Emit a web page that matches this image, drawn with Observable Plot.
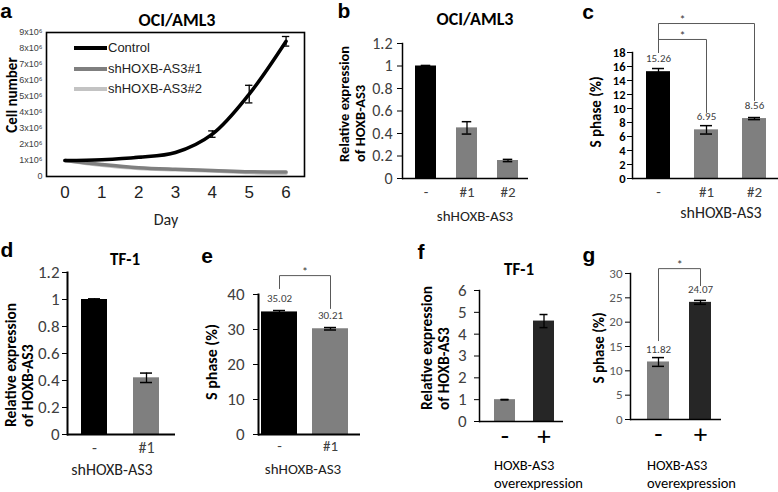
<!DOCTYPE html>
<html><head><meta charset="utf-8">
<script src="https://cdn.jsdelivr.net/npm/d3@7"></script>
<script src="https://cdn.jsdelivr.net/npm/@observablehq/plot@0.6"></script>
<style>
body{margin:0;background:#fff;}
#fig{position:relative;width:778px;height:492px;overflow:hidden;font-family:Carlito,Lato,"Liberation Sans",sans-serif;color:#000;}
#fig svg{position:absolute;}
.t{position:absolute;white-space:nowrap;line-height:1;transform:translate(-50%,-50%);}
.r2{position:absolute;white-space:nowrap;transform-origin:0 0;transform:rotate(-90deg);font-weight:bold;text-align:left;}
.b2{position:absolute;white-space:nowrap;text-align:left;}
</style></head><body><div id="fig"></div><script>
// ---------- data ----------
const days = [0, 1, 2, 3, 4, 5, 6];
const controlCells = [1.0e6, 1.05e6, 1.2e6, 1.5e6, 2.65e6, 5.15e6, 8.45e6];
const controlErr   = [0, 0, 0.05e6, 0, 0.2e6, 0.55e6, 0.3e6];
const sh1Cells = [1.0e6, 0.75e6, 0.55e6, 0.45e6, 0.38e6, 0.3e6, 0.28e6];
const sh2Cells = [1.0e6, 0.7e6, 0.5e6, 0.42e6, 0.35e6, 0.25e6, 0.2e6];
const seriesNames = ["Control", "shHOXB-AS3#1", "shHOXB-AS3#2"];
const cellTicks = [0, 1e6, 2e6, 3e6, 4e6, 5e6, 6e6, 7e6, 8e6, 9e6];
const cellTickLabels = ["0", "1x10⁶", "2x10⁶", "3x10⁶", "4x10⁶", "5x10⁶", "6x10⁶", "7x10⁶", "8x10⁶", "9x10⁶"];

const bCats = ["-", "#1", "#2"]; const bVals = [1.0, 0.45, 0.16]; const bErr = [0.005, 0.055, 0.01];
const cCats = ["-", "#1", "#2"]; const cVals = [15.26, 6.95, 8.56]; const cErr = [0.45, 0.6, 0.15];
const dCats = ["-", "#1"]; const dVals = [1.0, 0.42]; const dErr = [0.005, 0.035];
const eCats = ["-", "#1"]; const eVals = [35.02, 30.21]; const eErr = [0.4, 0.35];
const fCats = ["-", "+"]; const fVals = [1.0, 4.6]; const fErr = [0.01, 0.3];
const gCats = ["-", "+"]; const gVals = [11.82, 24.07]; const gErr = [0.9, 0.4];

const relTicks = [0, 0.2, 0.4, 0.6, 0.8, 1, 1.2];
const cTicks = [0, 2, 4, 6, 8, 10, 12, 14, 16, 18];
const eTicks = [0, 10, 20, 30, 40];
const fTicks = [0, 1, 2, 3, 4, 5, 6];
const gTicks = [0, 5, 10, 15, 20, 25, 30];

// significance brackets: from / to category, bracket height, foot heights
const cSig = [{from: "-", to: "#1", top: 19.86, footFrom: 18.0, footTo: 9.43},
              {from: "-", to: "#2", top: 22.14, footFrom: 18.0, footTo: 11.14}];
const eSig = [{from: "-", to: "#1", top: 45.4, footFrom: 41.7, footTo: 36.0}];
const gSig = [{from: "-", to: "+", top: 31.0, footFrom: 16.2, footTo: 27.5}];

// ---------- helpers ----------
const fig = document.getElementById("fig");
function place(svg, left, top) { svg.style.left = left + "px"; svg.style.top = top + "px"; fig.appendChild(svg); }
function txt(s, x, y, o = {}) {
  const d = document.createElement("div"); d.className = "t"; d.textContent = s;
  d.style.left = x + "px"; d.style.top = y + "px"; d.style.fontSize = (o.size || 15) + "px";
  if (o.bold) d.style.fontWeight = "bold";
  if (o.font) d.style.fontFamily = o.font;
  if (o.color) d.style.color = o.color;
  if (o.rot) d.style.transform = "translate(-50%,-50%) rotate(-90deg)";
  fig.appendChild(d);
}
function rot2(lines, xFirst, yBottom, size, lh) {
  const d = document.createElement("div"); d.className = "r2";
  d.style.left = (xFirst - lh / 2) + "px"; d.style.top = yBottom + "px";
  d.style.fontSize = size + "px"; d.style.lineHeight = lh + "px";
  lines.forEach(l => { const s = document.createElement("div"); s.textContent = l; d.appendChild(s); });
  fig.appendChild(d);
}
function two(lines, x, yTop, size, lh) {
  const d = document.createElement("div"); d.className = "b2";
  d.style.left = x + "px"; d.style.top = yTop + "px"; d.style.fontSize = size + "px"; d.style.lineHeight = lh + "px";
  lines.forEach(l => { const s = document.createElement("div"); s.textContent = l; d.appendChild(s); });
  fig.appendChild(d);
}
const plain = d => String(d);

// ---------- panel a ----------
{
  const rows = [];
  [controlCells, sh1Cells, sh2Cells].forEach((arr, k) => days.forEach((d, i) => rows.push({day: d, v: arr[i], s: seriesNames[k]})));
  const errRows = days.map((d, i) => ({day: d, v: controlCells[i], e: controlErr[i]})).filter(r => r.e > 0);
  const colors = {"Control": "#000", "shHOXB-AS3#1": "#7f7f7f", "shHOXB-AS3#2": "#c3c3c3"};
  const W = 310, H = 210, top = 0, left = 0;
  const svg = Plot.plot({
    width: W, height: H, marginLeft: 46, marginRight: 6, marginTop: 32, marginBottom: 34,
    x: {domain: [-0.5, 6.5]}, y: {domain: [0, 9e6]},
    style: {background: "transparent", fontFamily: "'Liberation Sans', Arial, sans-serif", overflow: "visible"},
    marks: [
      Plot.line(rows.filter(r => r.s === seriesNames[2]), {x: "day", y: "v", stroke: colors[seriesNames[2]], strokeWidth: 3.5, curve: "catmull-rom"}),
      Plot.line(rows.filter(r => r.s === seriesNames[1]), {x: "day", y: "v", stroke: colors[seriesNames[1]], strokeWidth: 3.5, curve: "catmull-rom"}),
      Plot.line(rows.filter(r => r.s === seriesNames[0]), {x: "day", y: "v", stroke: colors[seriesNames[0]], strokeWidth: 3.5, curve: "catmull-rom"}),
      Plot.ruleX(errRows, {x: "day", y1: r => r.v - r.e, y2: r => r.v + r.e, stroke: "#000", strokeWidth: 1.3}),
      Plot.ruleY(errRows, {y: r => r.v + r.e, x1: r => r.day - 0.1, x2: r => r.day + 0.1, stroke: "#000", strokeWidth: 1.3}),
      Plot.ruleY(errRows, {y: r => r.v - r.e, x1: r => r.day - 0.1, x2: r => r.day + 0.1, stroke: "#000", strokeWidth: 1.3}),
      Plot.frame({stroke: "#000", strokeWidth: 1.6}),
      Plot.axisY({ticks: cellTicks, tickFormat: d => cellTickLabels[cellTicks.indexOf(d)], tickSize: 0, tickPadding: 4, fontSize: 9, fill: "#404040", label: null}),
      Plot.axisX({ticks: days, tickFormat: plain, tickSize: 0, tickPadding: 9, fontSize: 17, fill: "#222", label: null})
    ]
  });
  place(svg, left, top);
  // legend
  const lg = document.createElement("div");
  lg.style.cssText = "position:absolute;left:74px;top:38px;font-family:'Liberation Sans',Arial,sans-serif;font-size:13px;line-height:20.5px;";
  seriesNames.forEach(n => {
    const row = document.createElement("div"); row.style.cssText = "display:flex;align-items:center;";
    const sw = document.createElement("span"); sw.style.cssText = `display:inline-block;width:33px;height:4px;background:${colors[n]};margin-right:1px;`;
    const lab = document.createElement("span"); lab.textContent = n; lab.style.color = "#222";
    row.appendChild(sw); row.appendChild(lab); lg.appendChild(row);
  });
  fig.appendChild(lg);
}

// ---------- bar panels ----------
function barPanel(p) {
  const mL = 52, mR = 4, mT = 40, mB = 40;
  const left = p.axisX - mL, top = p.yTop - mT;
  const width = p.right - p.axisX + mL + mR;
  const height = p.y0 - p.yTop + mT + mB;
  const s = p.centers[1] - p.centers[0];
  const pi = 1 - p.bw / s;
  const data = p.cats.map((c, i) => ({c, v: p.vals[i], e: p.errs[i], fill: p.colors[i]}));
  const capInset = (p.bw - p.cap) / 2;
  const marks = [
    Plot.barY(data, {x: "c", y: "v", fill: "fill"}),
    Plot.ruleX(data, {x: "c", y1: d => d.v - d.e, y2: d => d.v + d.e, stroke: "#000", strokeWidth: 1.3}),
    Plot.tickY(data, {x: "c", y: d => d.v + d.e, insetLeft: capInset, insetRight: capInset, stroke: "#000", strokeWidth: 1.5}),
    Plot.tickY(data, {x: "c", y: d => d.v - d.e, insetLeft: capInset, insetRight: capInset, stroke: "#000", strokeWidth: 1.5}),
    Plot.ruleY([0], {stroke: "#000", strokeWidth: p.axisW}),
    Plot.frame({anchor: "left", stroke: "#000", strokeWidth: p.axisW}),
    Plot.axisY({ticks: p.ticks, tickFormat: plain, tickSize: p.tickSize, tickPadding: p.tickPad, fontSize: p.tickFont, fontWeight: p.tickBold ? "bold" : "normal", fill: p.tickColor, stroke: "#000", label: null}),
    Plot.axisX({tickSize: 0, tickPadding: p.xPad, fontSize: p.xFont, fill: p.xColor, label: null})
  ];
  if (p.labels) marks.push(Plot.text(data, {x: "c", y: "v", text: d => d.v.toFixed(2), dy: -13, fontSize: 11, fill: "#404040"}));
  if (p.sig) {
    const pts = [];
    p.sig.forEach((b, k) => {
      pts.push({k, x: b.from, y: b.footFrom}, {k, x: b.from, y: b.top}, {k, x: b.to, y: b.top}, {k, x: b.to, y: b.footTo});
    });
    marks.push(Plot.line(pts, {x: "x", y: "y", z: "k", stroke: "#595959", strokeWidth: 1}));
    marks.push(Plot.text(p.sig, {x: "from", y: "top", text: () => "*", dx: s / 2, dy: -3, fontSize: 12, fill: "#404040"}));
  }
  const svg = Plot.plot({
    width, height, marginLeft: mL, marginRight: mR, marginTop: mT, marginBottom: mB,
    x: {type: "band", domain: p.cats, range: [p.centers[0] - s / 2 - left, p.centers[p.centers.length - 1] + s / 2 - left], paddingInner: pi, paddingOuter: pi / 2, align: 0.5},
    y: {domain: [0, p.yMax]},
    color: {type: "identity"},
    style: {background: "transparent", fontFamily: "Carlito, Lato, sans-serif", overflow: "visible"},
    marks
  });
  place(svg, left, top);
}

const K = "#000", G = "#7f7f7f", DK = "#262626";
barPanel({cats: bCats, vals: bVals, errs: bErr, colors: [K, G, G], axisX: 402, right: 528, y0: 178, yTop: 43, yMax: 1.2,
  centers: [425, 467, 508], bw: 21.5, cap: 10, ticks: relTicks, tickSize: 5, tickPad: 5, tickFont: 16, tickColor: "#404040",
  xPad: 8, xFont: 15, xColor: "#404040", axisW: 1.5});
barPanel({cats: cCats, vals: cVals, errs: cErr, colors: [K, G, G], axisX: 632, right: 778, y0: 178, yTop: 52, yMax: 18,
  centers: [658, 706, 754], bw: 24, cap: 12, ticks: cTicks, tickSize: 5, tickPad: 2, tickFont: 12.5, tickBold: true, tickColor: "#000",
  xPad: 8, xFont: 15, xColor: "#404040", axisW: 1.5, labels: true, sig: cSig});
barPanel({cats: dCats, vals: dVals, errs: dErr, colors: [K, G], axisX: 67, right: 175, y0: 434, yTop: 272, yMax: 1.2,
  centers: [94, 146], bw: 26, cap: 12, ticks: relTicks, tickSize: 5, tickPad: 3, tickFont: 17, tickColor: "#404040",
  xPad: 7, xFont: 16, xColor: "#404040", axisW: 2});
barPanel({cats: eCats, vals: eVals, errs: eErr, colors: [K, G], axisX: 258, right: 360, y0: 434, yTop: 294, yMax: 40,
  centers: [279, 330], bw: 36, cap: 12, ticks: eTicks, tickSize: 5, tickPad: 9, tickFont: 17, tickColor: "#404040",
  xPad: 6, xFont: 15, xColor: "#404040", axisW: 2, labels: true, sig: eSig});
barPanel({cats: fCats, vals: fVals, errs: fErr, colors: [G, DK], axisX: 479, right: 563, y0: 421, yTop: 290, yMax: 6,
  centers: [504, 543], bw: 21, cap: 8, ticks: fTicks, tickSize: 5, tickPad: 8, tickFont: 17, tickColor: "#404040",
  xPad: 4, xFont: 27, xColor: "#000", axisW: 1.5});
barPanel({cats: gCats, vals: gVals, errs: gErr, colors: [G, DK], axisX: 630, right: 721, y0: 419, yTop: 273, yMax: 30,
  centers: [657.5, 700], bw: 22, cap: 12, ticks: gTicks, tickSize: 5, tickPad: 3, tickFont: 13, tickColor: "#595959",
  xPad: 4, xFont: 27, xColor: "#000", axisW: 1.5, labels: true, sig: gSig});

// ---------- texts ----------
const AR = "'Liberation Sans', Arial, sans-serif";
[["a", 6, 10], ["b", 344, 10], ["c", 588, 11], ["d", 7, 249], ["e", 207, 255], ["f", 421, 251], ["g", 589, 254]]
  .forEach(([s, x, y]) => txt(s, x, y, {size: 21, bold: true, font: AR}));
txt("OCI/AML3", 177, 20, {size: 18, bold: true});
txt("OCI/AML3", 475, 19, {size: 18, bold: true});
txt("TF-1", 125, 259, {size: 17, bold: true});
txt("TF-1", 519, 269, {size: 17, bold: true});
txt("Cell number", 12, 95, {size: 15, bold: true, rot: true});
txt("Day", 166, 220, {size: 16, color: "#222"});
rot2(["Relative expression", "of HOXB-AS3"], 344, 162, 14.5, 16);
rot2(["Relative expression", "of HOXB-AS3"], 10, 427, 15.5, 17);
rot2(["Relative expression", "of HOXB-AS3"], 426, 410, 15.5, 17);
txt("S phase (%)", 596, 112, {size: 15, bold: true, rot: true});
txt("S phase (%)", 212, 362, {size: 16, bold: true, rot: true});
txt("S phase (%)", 599, 348, {size: 15, bold: true, rot: true});
txt("shHOXB-AS3", 475, 216, {size: 15, color: "#222"});
txt("shHOXB-AS3", 721, 213, {size: 16, color: "#222"});
txt("shHOXB-AS3", 112, 470, {size: 16, color: "#222"});
txt("shHOXB-AS3", 303, 469, {size: 15, color: "#222"});
two(["HOXB-AS3", "overexpression"], 494, 457, 14.5, 17.5);
two(["HOXB-AS3", "overexpression"], 647, 457, 14.5, 17.5);
</script></body></html>
